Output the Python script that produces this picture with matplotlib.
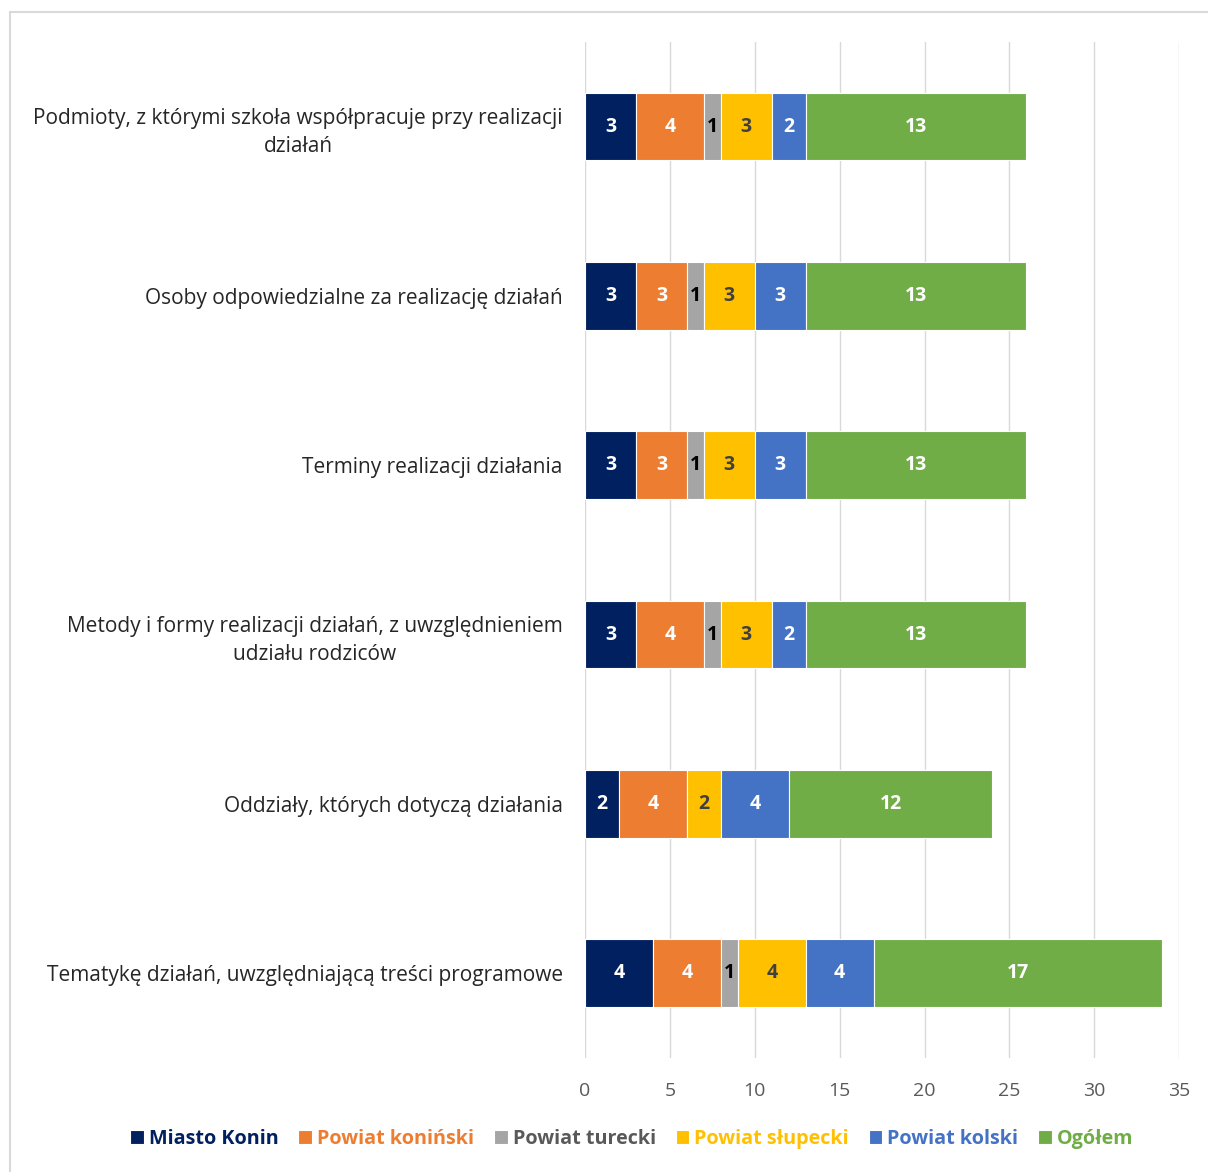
import matplotlib.pyplot as plt
import matplotlib.patches as patches
import numpy as np

plt.rcParams['font.family'] = ['Open Sans', 'DejaVu Sans']

# Dane
kategorie = [
    'Podmioty, z którymi szkoła współpracuje przy realizacji\ndziałań',
    'Osoby odpowiedzialne za realizację działań',
    'Terminy realizacji działania',
    'Metody i formy realizacji działań, z uwzględnieniem\nudziału rodziców',
    'Oddziały, których dotyczą działania',
    'Tematykę działań, uwzględniającą treści programowe',
]
serie = ['Miasto Konin', 'Powiat koniński', 'Powiat turecki',
         'Powiat słupecki', 'Powiat kolski', 'Ogółem']
miasto_konin = [3, 3, 3, 3, 2, 4]
powiat_koninski = [4, 3, 3, 4, 4, 4]
powiat_turecki = [1, 1, 1, 1, 0, 1]
powiat_slupecki = [3, 3, 3, 3, 2, 4]
powiat_kolski = [2, 3, 3, 2, 4, 4]
ogolem = [13, 13, 13, 13, 12, 17]

wartosci = [miasto_konin, powiat_koninski, powiat_turecki,
            powiat_slupecki, powiat_kolski, ogolem]
kolory = ['#002060', '#ED7D31', '#A5A5A5', '#FFC000', '#4472C4', '#70AD47']
kolory_etykiet = ['white', 'white', 'black', '#404040', 'white', 'white']
kolory_legendy = ['#002060', '#ED7D31', '#595959', '#FFC000', '#4472C4', '#70AD47']

fig = plt.figure(figsize=(12.08, 11.72), dpi=100)
ax = fig.add_axes([0.4843, 0.0973, 0.4918, 0.8669])

# Ramka wykresu
ramka = patches.Rectangle((10 / 1208, -0.05), 1.1, 1.05 - 12 / 1172,
                          transform=fig.transFigure, fill=False,
                          edgecolor='#D9D9D9', linewidth=1.5)
fig.patches.append(ramka)

y = np.arange(len(kategorie))
lewo = np.zeros(len(kategorie))
for nazwa, val, kol, kol_et in zip(serie, wartosci, kolory, kolory_etykiet):
    val = np.array(val)
    bary = ax.barh(y, val, left=lewo, height=0.4, color=kol,
                   edgecolor='white', linewidth=0.8, label=nazwa, zorder=3)
    for b, v in zip(bary, val):
        if v > 0:
            ax.text(b.get_x() + b.get_width() / 2, b.get_y() + b.get_height() / 2,
                    str(v), ha='center', va='center', color=kol_et,
                    fontsize=14, fontweight='bold', zorder=4)
    lewo += val

ax.set_ylim(len(kategorie) - 0.5, -0.5)
ax.set_xlim(0, 35)
ax.set_xticks(range(0, 36, 5))
ax.set_yticks(y)
ax.set_yticklabels(kategorie, fontsize=15, color='#262626')
for t in ax.get_yticklabels():
    t.set_multialignment('center')
    t.set_linespacing(1.45)
ax.tick_params(axis='y', length=0, pad=16)
ax.tick_params(axis='x', length=0, pad=17, labelsize=14, labelcolor='#595959')
ax.grid(axis='x', color='#D9D9D9', linewidth=1, zorder=0)
for s in ax.spines.values():
    s.set_visible(False)

leg = fig.legend(loc='center', bbox_to_anchor=(0.523, 0.0285), ncol=6,
                 frameon=False, handlelength=0.7, handleheight=0.7,
                 handletextpad=0.25, columnspacing=1.0,
                 prop={'size': 14.2, 'weight': 'bold'})
for txt, kol in zip(leg.get_texts(), kolory_legendy):
    txt.set_color(kol)

fig.savefig('out.png', dpi=100)
